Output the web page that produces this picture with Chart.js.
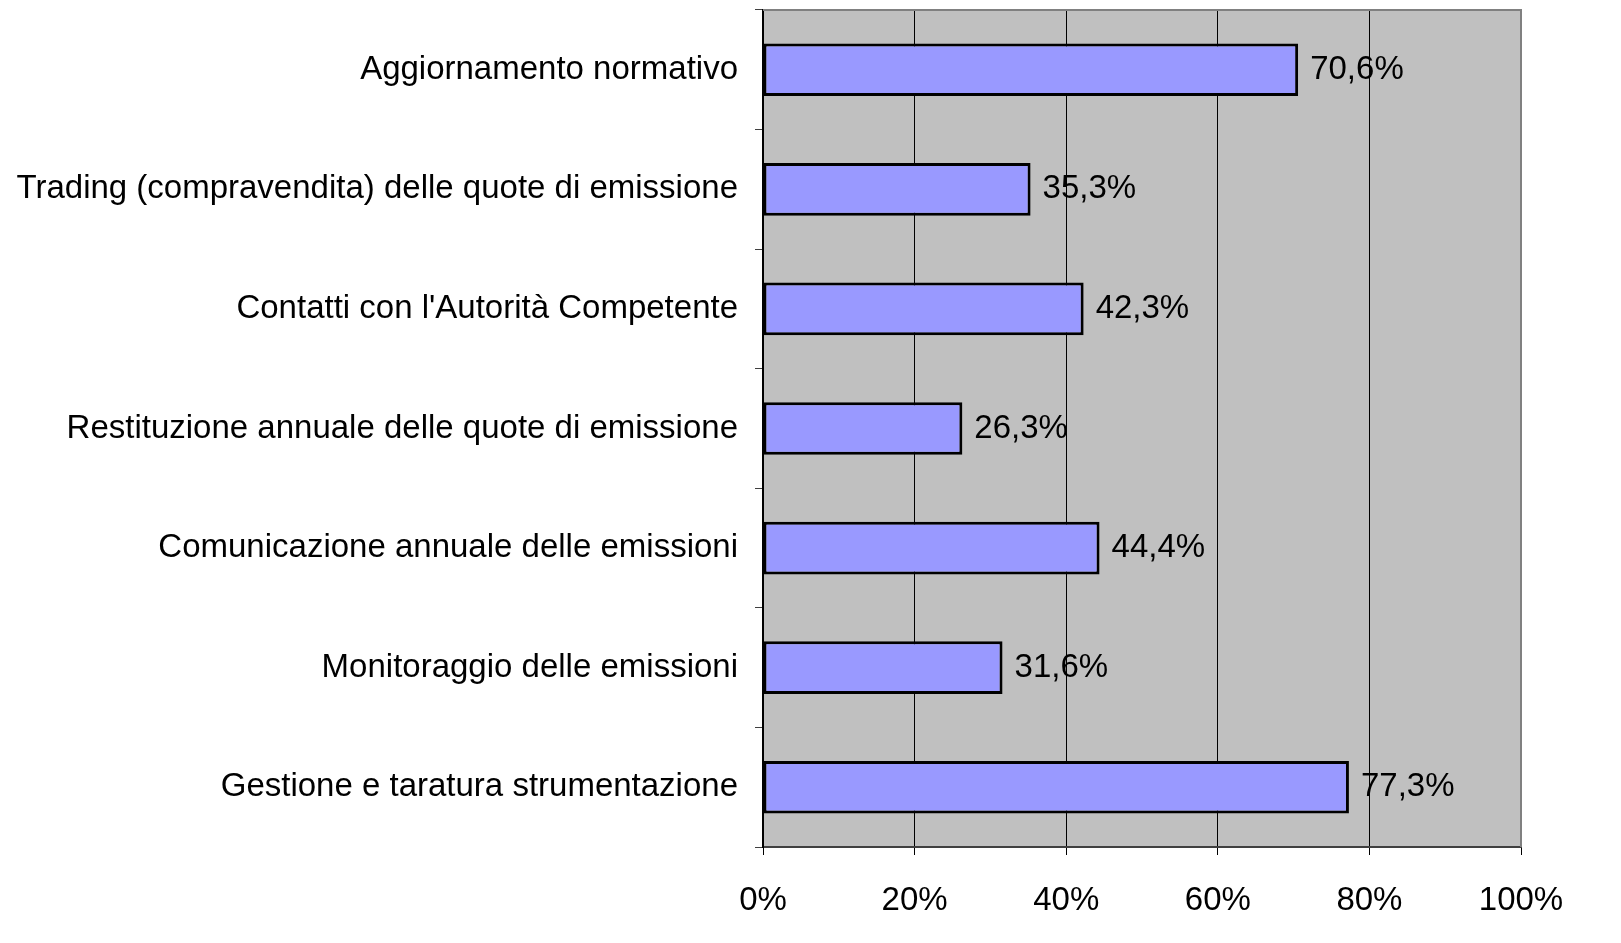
<!DOCTYPE html>
<html>
<head>
<meta charset="utf-8">
<script src="https://cdn.jsdelivr.net/npm/chart.js@4/dist/chart.umd.min.js"></script>
<style>
  html, body { margin: 0; padding: 0; background: #fff; }
  #wrap { width: 1621px; height: 943px; }
</style>
</head>
<body>
<div id="wrap"><canvas id="myChart" width="1621" height="943"></canvas></div>
<script>
// categorie e valori (%)
var categorie = [
    'Aggiornamento normativo',
    'Trading (compravendita) delle quote di emissione',
    "Contatti con l'Autorità Competente",
    'Restituzione annuale delle quote di emissione',
    'Comunicazione annuale delle emissioni',
    'Monitoraggio delle emissioni',
    'Gestione e taratura strumentazione'
];
var valori = [70.6, 35.3, 42.3, 26.3, 44.4, 31.6, 77.3];
var tickX = [0, 20, 40, 60, 80, 100];

var FONT = '"Liberation Sans", Arial, sans-serif';

function formatta(v) {
    return v.toFixed(1).replace('.', ',') + '%';
}

// sfondo grigio dell'area del grafico + bordo
var sfondo = {
    id: 'sfondo',
    beforeDraw: function (chart) {
        var a = chart.chartArea, c = chart.ctx;
        c.save();
        c.fillStyle = '#C0C0C0';
        c.fillRect(a.left, a.top, a.right - a.left, a.bottom - a.top);
        c.restore();
    },
    afterDraw: function (chart) {
        var a = chart.chartArea, c = chart.ctx;
        c.save();
        c.strokeStyle = '#808080';
        c.lineWidth = 2;
        c.beginPath();
        c.moveTo(a.left, a.top);
        c.lineTo(a.right, a.top);
        c.lineTo(a.right, a.bottom);
        c.stroke();
        c.restore();
    }
};

// etichette dei valori a destra delle barre
var etichette = {
    id: 'etichette',
    afterDatasetsDraw: function (chart) {
        var c = chart.ctx;
        var meta = chart.getDatasetMeta(0);
        c.save();
        c.font = '33px ' + FONT;
        c.fillStyle = '#000';
        c.textAlign = 'left';
        c.textBaseline = 'middle';
        meta.data.forEach(function (bar, i) {
            c.fillText(formatta(valori[i]), bar.x + 12, bar.y);
        });
        c.restore();
    }
};

var ctx = document.getElementById('myChart').getContext('2d');
var myChart = new Chart(ctx, {
    type: 'bar',
    data: {
        labels: categorie,
        datasets: [{
            data: valori,
            backgroundColor: '#9999FF',
            borderColor: '#000000',
            borderWidth: 3,
            borderSkipped: false,
            barPercentage: 0.44,
            categoryPercentage: 1
        }]
    },
    options: {
        indexAxis: 'y',
        responsive: false,
        animation: false,
        devicePixelRatio: 1,
        layout: { padding: { top: 10, right: 100, left: 0, bottom: 0 } },
        plugins: {
            legend: { display: false },
            tooltip: { enabled: false }
        },
        scales: {
            x: {
                min: 0,
                max: 100,
                afterBuildTicks: function (s) { s.ticks = tickX.map(function (v) { return { value: v }; }); },
                afterFit: function (s) { s.height = 96; },
                ticks: {
                    color: '#000',
                    font: { family: FONT, size: 33 },
                    padding: 26,
                    maxRotation: 0,
                    callback: function (v) { return v + '%'; }
                },
                grid: { color: '#000', lineWidth: 1, tickLength: 8 },
                border: { color: '#404040', width: 2 }
            },
            y: {
                afterFit: function (s) {
                    s.width = 763;
                    s.paddingTop = 0;
                    s.paddingBottom = 0;
                },
                ticks: {
                    color: '#000',
                    font: { family: FONT, size: 33 },
                    padding: 17
                },
                grid: { drawOnChartArea: false, color: '#404040', tickLength: 8, offset: true },
                border: { color: '#000', width: 2 }
            }
        }
    },
    plugins: [sfondo, etichette]
});
</script>
</body>
</html>
